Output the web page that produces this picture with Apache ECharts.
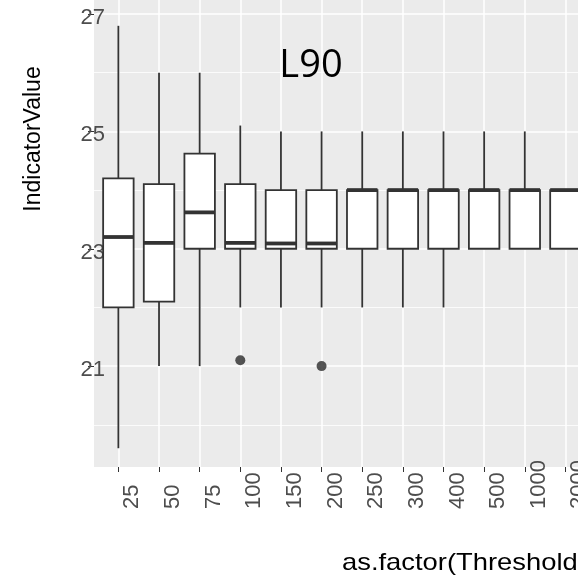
<!DOCTYPE html>
<html><head><meta charset="utf-8">
<script src="https://cdn.jsdelivr.net/npm/echarts@6/dist/echarts.min.js"></script>
<style>html,body{margin:0;padding:0;background:#fff}#c{width:578px;height:579px}</style>
</head><body><div id="c"></div>
<script>
// Threshold categories (x axis)
const categories = ['25','50','75','100','150','200','250','300','400','500','1000','2000'];
// Box statistics per category
const mins    = [19.6, 21.0, 21.0, 22.0, 22.0, 22.0, 22.0, 22.0, 22.0, 23.0, 23.0, 23.0];
const q1s     = [22.0, 22.1, 23.0, 23.0, 23.0, 23.0, 23.0, 23.0, 23.0, 23.0, 23.0, 23.0];
const medians = [23.2, 23.1, 23.62, 23.1, 23.09, 23.09, 24.0, 24.0, 24.0, 24.0, 24.0, 24.0];
const q3s     = [24.2, 24.1, 24.62, 24.1, 24.0, 24.0, 24.0, 24.0, 24.0, 24.0, 24.0, 24.0];
const maxs    = [26.8, 26.0, 26.0, 25.1, 25.0, 25.0, 25.0, 25.0, 25.0, 25.0, 25.0, 24.0];
// Outliers
const outlierCats   = ['100', '200'];
const outlierValues = [21.1, 21.0];
// Y tick labels
const yMajorTicks = [21, 23, 25, 27];
const yMinorTicks = [20, 22, 24, 26];

const catIdx = categories.map((c, i) => i);
const boxData = categories.map((c, i) => [i, mins[i], q1s[i], medians[i], q3s[i], maxs[i]]);
const outlierData = outlierCats.map((c, i) => [categories.indexOf(c), outlierValues[i]]);

const chart = echarts.init(document.getElementById('c'), null, {renderer: 'canvas'});
const FONT = '"Liberation Sans", Arial, sans-serif';
const yMin = 19.28, yMax = 27.24;

const option = {
  animation: false,
  grid: {left: 94, width: 508, top: 0, height: 467, show: true, backgroundColor: '#EBEBEB', borderWidth: 0,
         containLabel: false, outerBoundsMode: 'none'},
  xAxis: {
    type: 'value', min: -0.6, max: 11.9,
    axisLine: {show: false, onZero: false},
    axisTick: {show: true, length: 5, customValues: catIdx, lineStyle: {color: '#333333', width: 1}},
    axisLabel: {
      customValues: catIdx,
      formatter: v => categories[Math.round(v)],
      rotate: 90, align: 'left', verticalAlign: 'top', lineHeight: 28, margin: 42,
      fontSize: 22, color: '#4D4D4D', fontFamily: FONT
    },
    splitLine: {show: true, lineStyle: {color: '#FFFFFF', width: 1.5}}
  },
  yAxis: [
    {
      type: 'value', min: yMin, max: yMax,
      axisLine: {show: false, onZero: false},
      axisTick: {show: true, length: 6, customValues: yMajorTicks, lineStyle: {color: '#333333', width: 1}},
      axisLabel: {customValues: yMajorTicks, inside: true, align: 'right', margin: 11, verticalAlign: 'top', lineHeight: 8,
                  fontSize: 22, color: '#4D4D4D', fontFamily: FONT},
      splitLine: {show: true, lineStyle: {color: '#FFFFFF', width: 1.5}}
    },
    {
      type: 'value', min: yMin, max: yMax, position: 'left',
      axisLine: {show: false, onZero: false},
      axisTick: {show: false, customValues: yMinorTicks},
      axisLabel: {show: false, customValues: yMinorTicks},
      splitLine: {show: true, lineStyle: {color: '#FFFFFF', width: 0.8}}
    }
  ],
  series: [
    {
      type: 'custom',
      data: boxData,
      encode: {x: 0, y: [1, 2, 3, 4, 5]},
      z: 3,
      renderItem: function (params, api) {
        const x = api.value(0);
        const lo = api.coord([x, api.value(1)]);
        const b1 = api.coord([x, api.value(2)]);
        const md = api.coord([x, api.value(3)]);
        const b3 = api.coord([x, api.value(4)]);
        const hi = api.coord([x, api.value(5)]);
        const hw = api.size([0.75, 0])[0] / 2;
        const st = {stroke: '#333333', lineWidth: 1.8, fill: null};
        return {
          type: 'group',
          children: [
            {type: 'line', shape: {x1: hi[0], y1: hi[1], x2: b3[0], y2: b3[1]}, style: st},
            {type: 'line', shape: {x1: b1[0], y1: b1[1], x2: lo[0], y2: lo[1]}, style: st},
            {type: 'rect', shape: {x: b3[0] - hw, y: b3[1], width: 2 * hw, height: b1[1] - b3[1]},
             style: {fill: '#FFFFFF', stroke: '#333333', lineWidth: 1.8}},
            {type: 'line', shape: {x1: md[0] - hw, y1: md[1], x2: md[0] + hw, y2: md[1]},
             style: {stroke: '#333333', lineWidth: 3.8}}
          ]
        };
      }
    },
    {
      type: 'scatter', data: outlierData, symbol: 'circle', symbolSize: 10, z: 4,
      itemStyle: {color: '#2B2B2B'}
    }
  ],
  graphic: [
    {type: 'text', x: 311, y: 66, z: 10,
     style: {text: 'L90', font: '38px "Open Sans", sans-serif', fill: '#000000', align: 'center', verticalAlign: 'middle', textAlign: 'center', textVerticalAlign: 'middle'}},
    {type: 'text', x: 34, y: 139, rotation: Math.PI / 2, z: 10,
     style: {text: 'IndicatorValue', font: '23px ' + FONT, fill: '#000000', align: 'center', verticalAlign: 'middle', textAlign: 'center', textVerticalAlign: 'middle'}},
    {type: 'text', x: 342, y: 563, scaleX: 1.14, z: 10,
     style: {text: 'as.factor(Threshold)', font: '24px ' + FONT, fill: '#000000', align: 'left', verticalAlign: 'middle', textAlign: 'left', textVerticalAlign: 'middle'}}
  ]
};
chart.setOption(option);
</script>
</body></html>
